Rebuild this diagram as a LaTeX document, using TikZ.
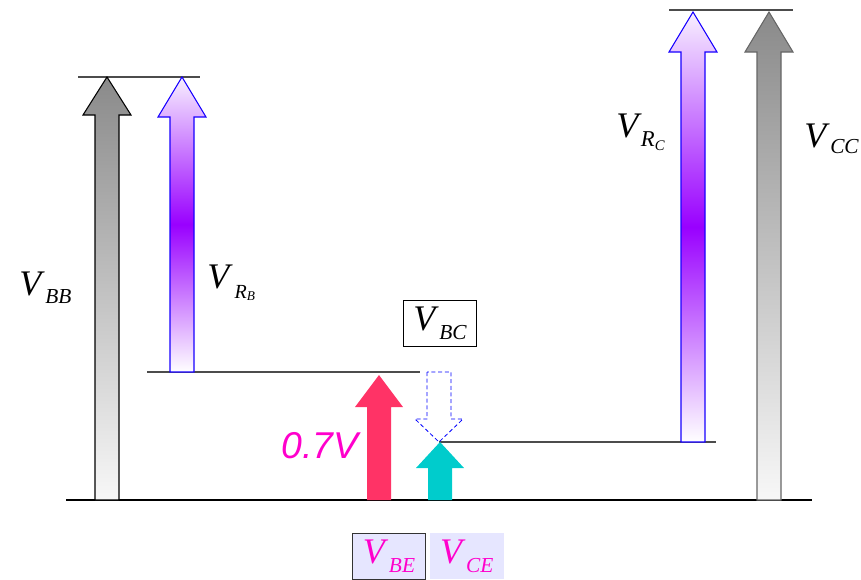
\documentclass[tikz,border=0pt]{standalone}
\usepackage{fontspec}
\usetikzlibrary{positioning}
\setmainfont{Liberation Serif}
\newfontfamily\sansfont{Liberation Sans}
\definecolor{magv}{HTML}{FF00CC}
\definecolor{redv}{HTML}{FF3366}
\definecolor{cyanv}{HTML}{00CCCC}
\definecolor{purv}{HTML}{9900FF}
\definecolor{lavtop}{HTML}{F8F0FF}
\definecolor{boxfill}{HTML}{E6E6FF}
\definecolor{grtop}{HTML}{8A8A8A}
\newcommand{\bigV}{\fontsize{27}{30}\selectfont}
\newcommand{\subsz}{\fontsize{16}{18}\selectfont}
% block arrow: [style]{x}{y of tail}{y of tip}{y of head base}
\newcommand{\blockarrow}[5][]{%
  \path[#1] (#2-12,#3) -- (#2-12,#5) -- (#2-24,#5) -- (#2,#4)
    -- (#2+24,#5) -- (#2+12,#5) -- (#2+12,#3) -- cycle;}
\begin{document}
\begin{tikzpicture}[
    x=0.75pt, y=-0.75pt,
    grayarrow/.style={draw=black, line width=0.8pt, top color=grtop, bottom color=white!97!black},
    purarrow/.style={draw=blue!85!purv, line width=0.8pt, top color=lavtop, bottom color=white, middle color=purv},
    level/.style={draw=black!70, line width=0.9pt},
    vlabel/.style={anchor=base west, inner sep=0pt, font=\itshape},
    vbox/.style={minimum width=55pt, minimum height=34.5pt, inner sep=0pt, font=\itshape},
]
\useasboundingbox (0,0) rectangle (861,579);

% level lines
\coordinate (bbL) at (78,77);   \coordinate (bbR) at (200,77);
\coordinate (ccL) at (669,10);  \coordinate (ccR) at (793,10);
\coordinate (bL) at (147,372);  \coordinate (bR) at (420,372);
\coordinate (cL) at (439,442);  \coordinate (cR) at (716,442);
\coordinate (gL) at (66,500);   \coordinate (gR) at (812,500);
\draw[level] (bbL) -- (bbR);
\draw[level] (ccL) -- (ccR);
\draw[level] (bL) -- (bR);
\draw[level] (cL) -- (cR);
\draw[black, line width=1.1pt] (gL) -- (gR);

% arrows
\blockarrow[grayarrow]{107}{500}{77}{115}
\blockarrow[purarrow]{182}{372}{77}{117}
\blockarrow[purarrow]{693}{442}{12}{52}
\blockarrow[grayarrow, draw=black!60]{769}{500}{12}{52}
\blockarrow[fill=redv]{379}{500}{375}{407}
\blockarrow[fill=cyanv]{440}{500}{442}{468}
\blockarrow[draw=blue, dash pattern=on 3pt off 2pt, line width=0.6pt]{439}{372}{442}{419}

% labels
\node[vlabel] (vbb) at (19,295) {\bigV V\hspace{3pt}\raisebox{-6pt}{\subsz BB}};
\node[vlabel] (vrb) at (207,288) {\bigV V\hspace{4pt}\raisebox{-7.5pt}{\fontsize{15}{16}\selectfont R\raisebox{-1.5pt}{\fontsize{10}{11}\selectfont B}}};
\node[vlabel] (vrc) at (616,137) {\bigV V\hspace{2pt}\raisebox{-7pt}{\fontsize{17}{18}\selectfont R\raisebox{-3pt}{\fontsize{11}{12}\selectfont C}}};
\node[vlabel] (vcc) at (804,147) {\bigV V\hspace{3pt}\raisebox{-4.5pt}{\subsz CC}};
\node[vbox, draw=black] (vbc) at (440,323) {\bigV V\hspace{3pt}\raisebox{-7pt}{\subsz BC}};
\node[vlabel, text=magv, font=\sansfont\itshape\fontsize{28}{30}\selectfont] (vdrop) at (281,458) {0.7V};
\node[vbox, draw=black!80, fill=boxfill, text=magv] (vbe) at (389,556) {\bigV V\hspace{3pt}\raisebox{-7pt}{\subsz BE}};
\node[vbox, fill=boxfill, text=magv, right=3pt of vbe] (vce) {\bigV V\hspace{3pt}\raisebox{-7pt}{\subsz CE}};

\end{tikzpicture}
\end{document}
